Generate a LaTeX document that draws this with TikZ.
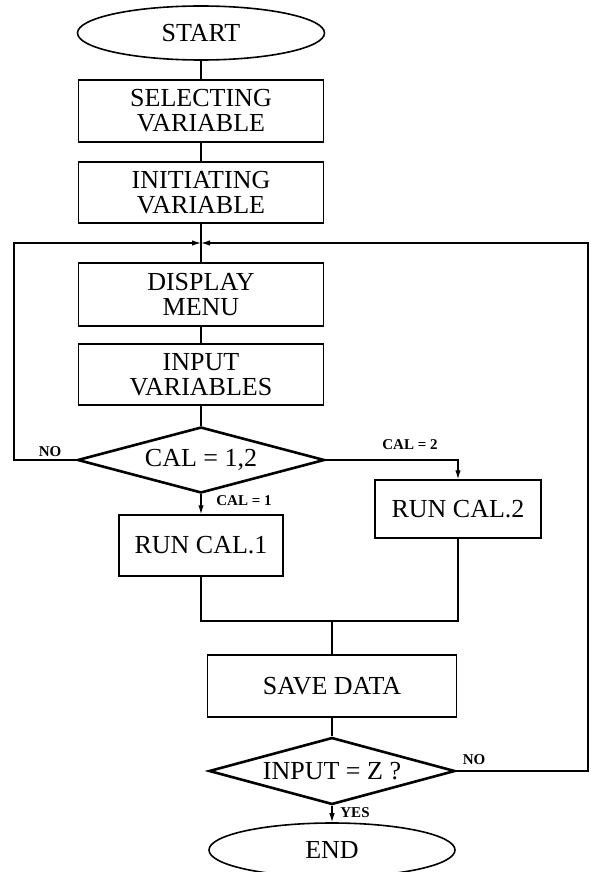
\documentclass[tikz,border=0pt]{standalone}
\usepackage{fontspec}
\setmainfont{Liberation Serif}
\usetikzlibrary{shapes.geometric,arrows.meta}

\begin{document}
\begin{tikzpicture}[x=1pt,y=1pt,
  box/.style={draw,line width=1.5pt,minimum width=245pt,inner sep=0pt,align=center,font=\fontsize{26}{25}\selectfont},
  term/.style={ellipse,draw,line width=1.6pt,minimum width=247pt,minimum height=54pt,inner sep=0pt,font=\fontsize{26}{25}\selectfont},
  test/.style={diamond,draw,line width=2.6pt,aspect=3.7,minimum width=247pt,minimum height=66pt,inner sep=0pt,font=\fontsize{26}{25}\selectfont},
  flow/.style={line width=1.2pt},
  tip/.style={-{Latex[length=9pt,width=5.5pt]}},
  tag/.style={font=\bfseries\fontsize{15}{15}\selectfont}]
  \useasboundingbox (0,0) rectangle (590,-872);

  \node[term] (start) at (201,-33) {START};
  \node[box,minimum height=62pt] (select) at (201,-111) {SELECTING\\VARIABLE};
  \node[box,minimum height=61pt] (init) at (201,-192.5) {INITIATING\\VARIABLE};
  \node[box,minimum height=63pt] (menu) at (201,-294.5) {DISPLAY\\MENU};
  \node[box,minimum height=61pt] (input) at (201,-374.5) {INPUT\\VARIABLES};
  \node[test] (cal) at (201,-460) {CAL = 1,2};
  \node[box,minimum width=164pt,minimum height=61pt] (run1) at (201,-545.5) {RUN CAL.1};
  \node[box,minimum width=166pt,minimum height=58pt] (run2) at (458,-509) {RUN CAL.2};
  \node[box,minimum width=249pt,minimum height=62pt] (save) at (332,-686) {SAVE DATA};
  \node[test,minimum width=246pt,minimum height=67pt] (check) at (332,-771) {INPUT = Z ?};
  \node[term,minimum width=246pt] (stop) at (332,-850) {END};

  \coordinate (join) at (201,-243);
  \coordinate (leftturn) at (14,-243);
  \coordinate (rightturn) at (588,-243);
  \coordinate (merge) at (332,-621);

  \draw[flow] (start) -- (select);
  \draw[flow] (select) -- (init);
  \draw[flow] (init) -- (menu);
  \draw[flow] (menu) -- (input);
  \draw[flow] (input) -- (cal);
  \draw[flow,tip] (cal) -- (run1);
  \draw[flow,tip] (cal.east) -| (run2.north);
  \draw[flow] (run1.south) |- (merge) -| (run2.south);
  \draw[flow] (merge) -- (save);
  \draw[flow] (save) -- (check);
  \draw[flow,tip] (check) -- (stop);
  \draw[flow,tip] (cal.west) -| (leftturn) -- (join);
  \draw[flow,tip] (check.east) -| (rightturn) -- (join);

  \node[tag] (no1) at (50,-452) {NO};
  \node[tag] (cal2) at (410,-445) {CAL = 2};
  \node[tag] (cal1) at (244,-501) {CAL = 1};
  \node[tag] (no2) at (474,-760) {NO};
  \node[tag] (yes) at (355,-813) {YES};
\end{tikzpicture}
\end{document}
